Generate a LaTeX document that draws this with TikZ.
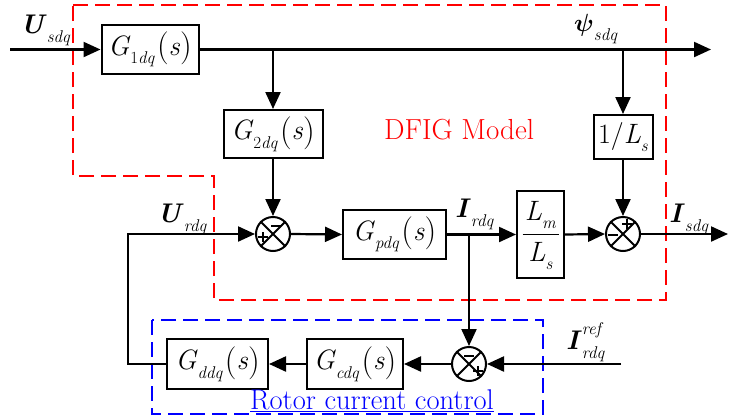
\documentclass[tikz,border=0pt]{standalone}
\usepackage{fontspec}
\usepackage{bm}
\usetikzlibrary{arrows.meta}
\definecolor{dfigred}{RGB}{255,0,0}
\definecolor{ctrlblue}{RGB}{0,0,255}
\newcommand\subf[1]{{\fontsize{17}{17}\selectfont #1}}
\newcommand\bigparen[1]{\raisebox{-0.06em}{\fontsize{33}{33}\selectfont #1}}
\newcommand\Gfn[1]{\textit{G}\raisebox{-0.3em}{\subf{#1}}\hspace{2pt}\bigparen{(}\textit{s}\bigparen{)}}
\newcommand\vlab[2]{#1\raisebox{-0.34em}{\subf{\textit{#2}}}}
\tikzset{
  blk/.style={draw, line width=2pt, rectangle, inner sep=0pt, font=\fontsize{28}{28}\selectfont},
  sumj/.style={draw, line width=2pt, circle, minimum size=34pt, inner sep=0pt},
  flow/.style={line width=2.2pt, -{Triangle[length=17pt,width=15pt]}},
  sgn/.style={line width=1.1pt},
  vtxt/.style={inner sep=0pt, anchor=base west, font=\fontsize{27}{27}\selectfont},
  xline/.style={line width=1.8pt},
}
\begin{document}
\begin{tikzpicture}[x=1pt,y=-1pt]
\useasboundingbox (0,0) rectangle (729,416);
% dashed regions
\draw[dfigred, line width=2pt, dash pattern=on 15pt off 7pt]
  (73,5) -- (666,5) -- (666,300) -- (214,300) -- (214,176) -- (73,176) -- cycle;
\draw[ctrlblue, line width=2pt, dash pattern=on 15pt off 7pt]
  (152,320) rectangle (543,414);
% blocks
\node[blk, minimum width=97pt, minimum height=49pt] (G1) at (150,49.5) {\Gfn{1\textit{dq}}};
\node[blk, minimum width=99pt, minimum height=48pt] (G2) at (273,134) {\Gfn{2\textit{dq}}};
\node[blk, minimum width=103pt, minimum height=49pt] (Gp) at (394.5,234.5) {\Gfn{\textit{pdq}}};
\node[blk, minimum width=47pt, minimum height=87pt] (Lm) at (540.5,234.5) {};
\node[inner sep=0pt, font=\fontsize{28}{28}\selectfont] (Lmn) at (540.5,215) {\textit{L}\raisebox{-0.3em}{\subf{\textit{m}}}};
\node[inner sep=0pt, font=\fontsize{28}{28}\selectfont] (Lsn) at (540.5,256) {\textit{L}\raisebox{-0.3em}{\subf{\textit{s}}}};
\node[blk, minimum width=59pt, minimum height=44pt] (L1) at (623,137) {1/\textit{L}\raisebox{-0.3em}{\subf{\textit{s}}}};
\node[blk, minimum width=96pt, minimum height=50pt] (Gc) at (355,364) {\Gfn{\textit{cdq}}};
\node[blk, minimum width=101pt, minimum height=50pt] (Gd) at (217.5,364) {\Gfn{\textit{ddq}}};
\draw[line width=1.2pt] ([shift={(-18,0)}]Lm.center) -- ([shift={(18,0)}]Lm.center);
% summing junctions
\node[sumj] (S1) at (273,234) {};
\node[sumj] (S2) at (623,234) {};
\node[sumj] (S3) at (469,364) {};
\foreach \s in {S1,S2,S3}{
  \draw[xline] (\s.north west) -- (\s.south east) (\s.north east) -- (\s.south west);
}
% signs
\draw[sgn] ([shift={(-2,-8)}]S1.center) -- ([shift={(8,-8)}]S1.center);
\draw[sgn] ([shift={(-15,3)}]S1.center) -- ([shift={(-5,3)}]S1.center)
           ([shift={(-10,-2)}]S1.center) -- ([shift={(-10,8)}]S1.center);
\draw[sgn] ([shift={(-1,-10)}]S2.center) -- ([shift={(9,-10)}]S2.center)
           ([shift={(4,-15)}]S2.center) -- ([shift={(4,-5)}]S2.center);
\draw[sgn] ([shift={(-15,1)}]S2.center) -- ([shift={(-5,1)}]S2.center);
\draw[sgn] ([shift={(-5,-8)}]S3.center) -- ([shift={(5,-8)}]S3.center);
\draw[sgn] ([shift={(4,7)}]S3.center) -- ([shift={(14,7)}]S3.center)
           ([shift={(9,2)}]S3.center) -- ([shift={(9,12)}]S3.center);
% coordinates
\coordinate (uin) at (10,49.5);
\coordinate (psiend) at (711,49.5);
\coordinate (isend) at (728,234);
\coordinate (refin) at (621,364);
\coordinate (fb1) at (128,364);
\coordinate (fb2) at (128,234);
% connectors
\draw[flow] (uin) -- (G1.west);
\draw[flow] (G1.east) -- (psiend);
\draw[flow] (G2.north |- G1.east) -- (G2.north);
\draw[flow] (G2.south) -- (S1.north);
\draw[flow] (L1.north |- G1.east) -- (L1.north);
\draw[flow] (L1.south) -- (S2.north);
\draw[flow] (S1.east) -- (Gp.west);
\draw[flow] (Gp.east) -- (Lm.west);
\draw[flow] (Lm.east) -- (S2.west);
\draw[flow] (S2.east) -- (isend);
\draw[flow] (S3.north |- Gp.east) -- (S3.north);
\draw[flow] (refin) -- (S3.east);
\draw[flow] (S3.west) -- (Gc.east);
\draw[flow] (Gc.west) -- (Gd.east);
\draw[flow] (Gd.west) -- (fb1) -- (fb2) -- (S1.west);
% signal labels
\node[vtxt] (lUs) at (20,33) {\vlab{\textbf{\textit{U}}}{sdq}};
\node[vtxt] (lpsi) at (574,31) {\vlab{$\bm{\psi}$}{sdq}};
\node[vtxt] (lUr) at (157,222) {\vlab{\textbf{\textit{U}}}{rdq}};
\node[vtxt] (lIr) at (455,217) {\vlab{\textbf{\textit{I}}}{rdq}};
\node[vtxt] (lIs) at (669,222) {\vlab{\textbf{\textit{I}}}{sdq}};
\node[vtxt] (lIref) at (566,349) {\textbf{\textit{I}}\rlap{\raisebox{0.52em}{\subf{\textit{ref}}}}\raisebox{-0.34em}{\subf{\textit{rdq}}}};
% region titles
\node[inner sep=0pt, anchor=base west, text=dfigred, font=\fontsize{29}{29}\selectfont] (tDFIG) at (384,139) {DFIG Model};
\node[inner sep=0pt, anchor=base west, text=ctrlblue, font=\fontsize{28.5}{28.5}\selectfont] (tRCC) at (250,409) {\underline{Rotor current control}};
\end{tikzpicture}
\end{document}
